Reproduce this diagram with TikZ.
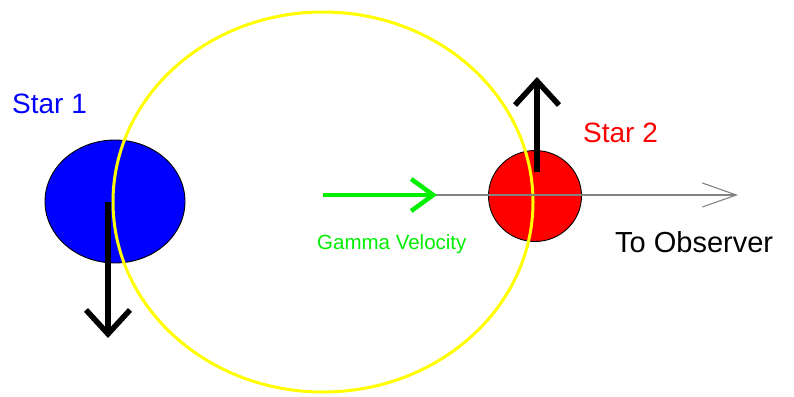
\documentclass[tikz,border=0pt]{standalone}
\usepackage{fontspec}
\setmainfont{Liberation Sans}
\usetikzlibrary{arrows.meta,shapes.geometric}

\definecolor{starblue}{RGB}{0,0,255}
\definecolor{starred}{RGB}{255,0,0}
\definecolor{orbityellow}{RGB}{255,255,0}
\definecolor{gammagreen}{RGB}{0,240,0}
\definecolor{raygray}{RGB}{130,130,130}

\tikzset{
  starbody/.style={ellipse,draw=black,line width=0.9pt,inner sep=0pt},
  motion/.style={line width=5.5pt,-{Straight Barb[length=24pt,width=44pt]}},
  bigtext/.style={inner sep=0pt,anchor=base west,font=\fontsize{28}{30}\selectfont},
}

\begin{document}
\begin{tikzpicture}[x=1pt,y=-1pt]
\useasboundingbox (0,0) rectangle (794,396);

\node[starbody,fill=starblue,minimum width=140pt,minimum height=123pt] (star1) at (115,201.5) {};
\node[starbody,fill=starred,minimum width=93pt,minimum height=91pt] (star2) at (535,196) {};

\draw[orbityellow,line width=3pt] (323,202) ellipse [x radius=210pt,y radius=190pt];

\coordinate (cm) at (323,195);
\coordinate (gtip) at (437,195);
\coordinate (observer) at (738,195);
\coordinate (down) at (108,338);
\coordinate (up) at (537,77);

\draw[raygray,line width=1.1pt,-{Straight Barb[length=34pt,width=24pt]}] (cm) -- (observer);
\draw[gammagreen,line width=4.5pt,-{Straight Barb[length=22pt,width=32pt]}] (cm) -- (gtip);

\draw[motion] (108,201.5) -- (down);
\draw[motion] (537,172) -- (up);

\node[bigtext,text=starblue] (lab1) at (12,113) {Star 1};
\node[bigtext,text=starred] (lab2) at (583,142) {Star 2};
\node[bigtext,text=black,font=\fontsize{29}{31}\selectfont] (labobs) at (615,252) {To Observer};
\node[inner sep=0pt,anchor=base west,text=gammagreen,font=\fontsize{20.5}{22}\selectfont] (labgamma) at (317,249) {Gamma Velocity};
\end{tikzpicture}
\end{document}
